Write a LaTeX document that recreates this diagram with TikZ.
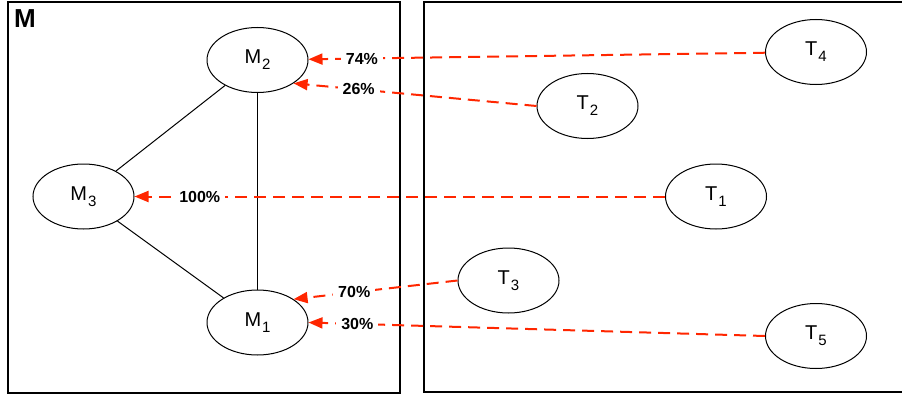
\documentclass[tikz,border=0pt]{standalone}
\usepackage{fontspec}
\setmainfont{Liberation Sans}
\usepackage{tikz}
\usetikzlibrary{arrows.meta,shapes.geometric}
\definecolor{mapred}{RGB}{255,38,0}
\newcommand{\lowidx}[1]{\kern1pt\raisebox{-6pt}{\fontsize{15}{18}\selectfont#1}}

\begin{document}
\begin{tikzpicture}[x=1pt,y=-1pt,
  state/.style={draw, ellipse, line width=1pt, minimum width=101pt, minimum height=65pt, inner sep=1pt, font=\fontsize{20}{24}\selectfont},
  link/.style={line width=1pt},
  share/.style={draw=mapred, line width=2pt, dash pattern=on 12pt off 7pt, -{Triangle[length=14pt,width=11pt]}},
  pct/.style={fill=white, inner xsep=5pt, inner ysep=1pt, font=\fontsize{16}{19}\selectfont\bfseries}]
\useasboundingbox (0,0) rectangle (902,396);
% frames
\draw[line width=2pt] (8,2) rectangle (400,393);
\draw[line width=2pt] (902,2) -- (424,2) -- (424,392) -- (902,392);
\node[anchor=base west, inner sep=0pt, font=\fontsize{26}{30}\selectfont\bfseries] (mtitle) at (14,28) {M};
% model states
\node[state] (M2) at (257.5,60) {M\lowidx{2}};
\node[state] (M3) at (83.5,196.5) {M\lowidx{3}};
\node[state] (M1) at (257.5,322.5) {M\lowidx{1}};
% target states
\node[state] (T4) at (816,52) {T\lowidx{4}};
\node[state] (T2) at (587.5,106) {T\lowidx{2}};
\node[state] (T1) at (716,196.5) {T\lowidx{1}};
\node[state] (T3) at (508.5,280.5) {T\lowidx{3}};
\node[state] (T5) at (816,336) {T\lowidx{5}};
\draw[link] (M2) -- (M3);
\draw[link] (M2) -- (M1);
\draw[link] (M3) -- (M1);
% mapping
\draw[share] (T4) -- node[pct, pos=0.883] (p74) {74\%} (M2);
\draw[share] (T2.west) -- node[pct, pos=0.732] (p26) {26\%} (M2.south east);
\draw[share] (T1) -- node[pct, pos=0.877] (p100) {100\%} (M3);
\draw[share] (T3.west) -- node[pct, pos=0.63] (p70) {70\%} (M1.north east);
\draw[share] (T5.west) -- node[pct, pos=0.893] (p30) {30\%} (M1.east);
\end{tikzpicture}
\end{document}
